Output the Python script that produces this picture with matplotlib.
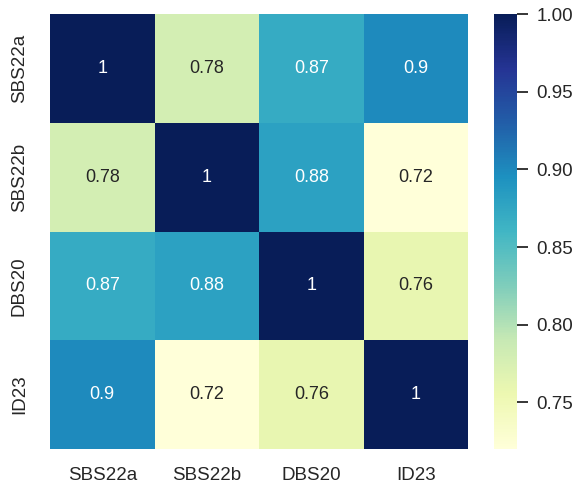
import numpy as np
import matplotlib
matplotlib.use("Agg")
import matplotlib.pyplot as plt
import seaborn as sns

labels = ["SBS22a", "SBS22b", "DBS20", "ID23"]
corr = np.array([
    [1.00, 0.78, 0.87, 0.90],
    [0.78, 1.00, 0.88, 0.72],
    [0.87, 0.88, 1.00, 0.76],
    [0.90, 0.72, 0.76, 1.00],
])

sns.set_theme(style="white")
plt.rcParams["font.family"] = ["Liberation Sans", "DejaVu Sans"]

fig = plt.figure(figsize=(5.79, 4.92), dpi=100)
ax = fig.add_axes([0.0864, 0.0874, 0.7219, 0.8841])
cax = fig.add_axes([0.8532, 0.0874, 0.0397, 0.8841])

sns.heatmap(corr, annot=True, cmap="YlGnBu", xticklabels=labels, yticklabels=labels,
            ax=ax, cbar_ax=cax, annot_kws={"size": 13})
ax.tick_params(axis="x", labelsize=13.5, pad=13, length=0)
ax.tick_params(axis="y", labelsize=13.5, pad=16, length=0)
cax.tick_params(labelsize=13.5, length=8, width=1.3, pad=6, color="#262626")
cax.yaxis.set_major_formatter(matplotlib.ticker.FormatStrFormatter("%.2f"))

fig.savefig("out.png", dpi=100)
